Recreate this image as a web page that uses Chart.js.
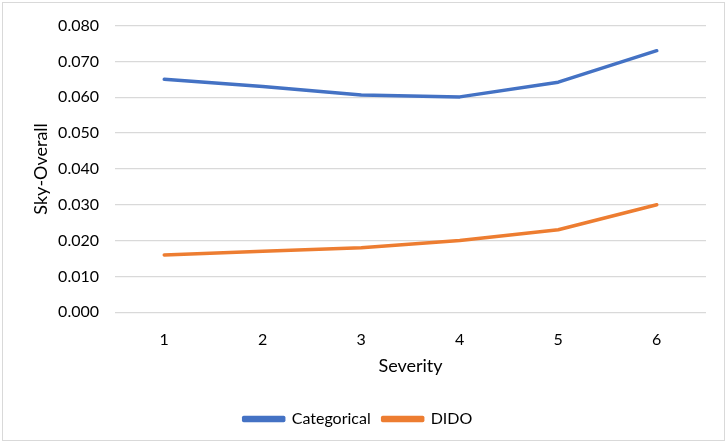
<!DOCTYPE html>
<html>
<head>
<meta charset="utf-8">
<script src="https://cdn.jsdelivr.net/npm/chart.js@4"></script>
<style>
  body { margin: 0; background: #fff; }
  .wrap { position: relative; width: 728px; height: 448px; }
  .frame { position: absolute; left: 2px; top: 2px; width: 721px; height: 437px; border: 1px solid #d9d9d9; }
  canvas { position: absolute; left: 0; top: 0; }
</style>
</head>
<body>
<div class="wrap">
  <div class="frame"></div>
  <canvas id="chart" width="728" height="448"></canvas>
</div>
<script>
var severity = ["1", "2", "3", "4", "5", "6"];
var categorical = [0.065, 0.063, 0.0606, 0.0601, 0.0642, 0.073];
var dido = [0.016, 0.017, 0.018, 0.020, 0.023, 0.030];

var font = "Lato, 'Noto Sans', sans-serif";

var ctx = document.getElementById('chart');

new Chart(ctx, {
  type: 'line',
  data: {
    labels: severity,
    datasets: [
      {
        label: 'Categorical',
        data: categorical,
        borderColor: '#4472c4',
        backgroundColor: '#4472c4',
        borderWidth: 3.5,
        borderCapStyle: 'round',
        borderJoinStyle: 'round',
        pointRadius: 0,
        tension: 0
      },
      {
        label: 'DIDO',
        data: dido,
        borderColor: '#ed7d31',
        backgroundColor: '#ed7d31',
        borderWidth: 3.5,
        borderCapStyle: 'round',
        borderJoinStyle: 'round',
        pointRadius: 0,
        tension: 0
      }
    ]
  },
  options: {
    responsive: false,
    animation: false,
    layout: { padding: { left: 10, right: 22, top: 10, bottom: 11 } },
    plugins: {
      tooltip: { enabled: false },
      legend: {
        position: 'bottom',
        labels: {
          boxWidth: 40,
          boxHeight: 3,
          padding: 12,
          color: '#000',
          font: { family: font, size: 16 }
        }
      }
    },
    scales: {
      x: {
        offset: true,
        grid: { display: false, drawTicks: false },
        border: { display: false },
        ticks: { color: '#000', padding: 18, font: { family: font, size: 16 } },
        title: {
          display: true,
          text: 'Severity',
          color: '#000',
          padding: { top: -12, bottom: 22 },
          font: { family: font, size: 18 }
        }
      },
      y: {
        min: 0,
        max: 0.08,
        grid: { color: '#d9d9d9', lineWidth: 1.3, drawTicks: false },
        border: { display: false },
        ticks: {
          stepSize: 0.01,
          color: '#000',
          padding: 16,
          font: { family: font, size: 16 },
          callback: function (v) { return v.toFixed(3); }
        },
        title: {
          display: true,
          text: 'Sky-Overall',
          color: '#000',
          padding: { top: 20, bottom: 4 },
          font: { family: font, size: 18 }
        },
        afterFit: function (scale) { scale.width = 105; }
      }
    }
  }
});
</script>
</body>
</html>
